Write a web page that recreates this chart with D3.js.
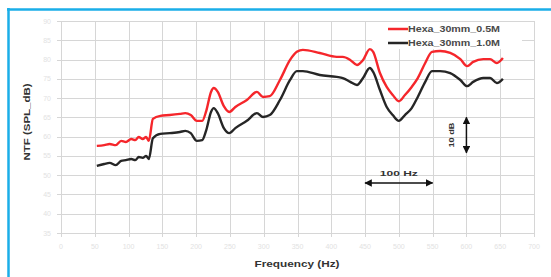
<!DOCTYPE html>
<html>
<head>
<meta charset="utf-8">
<script src="https://cdn.jsdelivr.net/npm/d3@7"></script>
<style>
  body { margin: 0; background: #fff; }
  svg { display: block; font-family: "Liberation Sans", Arial, sans-serif; }
</style>
</head>
<body>
<svg id="chart"></svg>
<script>
// frequency points (Hz)
const freqs = [53, 64, 72, 81, 89, 96, 104, 110, 115, 121, 126, 130, 136, 147, 161, 176, 184, 192, 201, 209,
  215, 222, 226, 232, 241, 249, 258, 275, 290, 299, 309, 324, 339, 349, 358, 383, 408, 417, 428, 438,
  447, 457, 462, 472, 482, 491, 500, 509, 519, 528, 539, 549, 561, 576, 591, 601, 610, 625, 635, 645, 654]

// Hexa_30mm_0.5M (red)
const ntfHalf = [57.6, 57.8, 58.1, 57.8, 58.9, 58.6, 59.4, 59.1, 59.9, 59.4, 59.9, 58.9, 64.6, 65.4, 65.6, 65.9, 66.1, 65.6, 64.1, 64.1,
  66.7, 71.6, 72.6, 71.6, 67.9, 66.4, 67.7, 69.5, 71.6, 70.3, 70.5, 74.7, 79.9, 82.0, 82.5, 81.7, 80.7, 80.7, 79.9, 78.6,
  79.9, 82.7, 82.0, 76.5, 72.9, 70.8, 69.2, 70.8, 72.9, 75.2, 79.1, 82.0, 82.2, 81.7, 80.1, 78.3, 79.4, 80.1, 80.1, 79.1, 80.4]

// Hexa_30mm_1.0M (black)
const ntfOne = [52.4, 52.9, 53.2, 52.6, 53.7, 53.9, 54.2, 53.9, 54.7, 54.5, 55.0, 54.2, 59.6, 60.7, 60.9, 61.2, 61.5, 60.9, 58.9, 59.1,
  61.7, 66.4, 67.4, 66.1, 62.2, 60.9, 62.2, 64.1, 66.1, 65.1, 65.6, 69.5, 74.7, 77.0, 77.0, 76.0, 75.5, 75.2, 74.2, 73.4,
  75.2, 77.8, 76.8, 72.1, 67.7, 65.6, 64.1, 65.6, 67.4, 70.3, 74.2, 77.0, 77.0, 76.5, 74.7, 73.1, 74.2, 75.2, 75.2, 73.9, 75.0]

const seriesNames = ["Hexa_30mm_0.5M", "Hexa_30mm_1.0M"]
const seriesColors = ["#f5262b", "#262626"]

const xTicks = d3.range(0, 701, 50)
const yTicks = d3.range(35, 91, 5)

const width = 551
const height = 277
const margin = { top: 21, right: 17, bottom: 44, left: 61 }

const svg = d3.select("#chart")
  .attr("width", width)
  .attr("height", height)

// blue frame of the figure
svg.append("line")
  .attr("x1", 8.5).attr("x2", 8.5).attr("y1", 8).attr("y2", height)
  .attr("stroke", "#1aaee8").attr("stroke-width", 2.5)
svg.append("line")
  .attr("x1", 7).attr("x2", width).attr("y1", 9.5).attr("y2", 9.5)
  .attr("stroke", "#1aaee8").attr("stroke-width", 2.5)

const xScale = d3.scaleLinear()
  .domain([0, 700])
  .range([margin.left, width - margin.right])

const yScale = d3.scaleLinear()
  .domain([35, 90])
  .range([height - margin.bottom, margin.top])

// grid
const grid = svg.append("g").attr("stroke", "#d6d6d6").attr("stroke-width", 1)
grid.selectAll(".vg")
  .data(xTicks)
  .join("line")
  .attr("x1", d => Math.round(xScale(d)) + 0.5)
  .attr("x2", d => Math.round(xScale(d)) + 0.5)
  .attr("y1", yScale(90))
  .attr("y2", yScale(35) + 4)
grid.selectAll(".hg")
  .data(yTicks)
  .join("line")
  .attr("x1", xScale(0) - 4)
  .attr("x2", xScale(700))
  .attr("y1", d => Math.round(yScale(d)) + 0.5)
  .attr("y2", d => Math.round(yScale(d)) + 0.5)

// faint tick labels
svg.append("g").selectAll("text")
  .data(yTicks)
  .join("text")
  .attr("x", xScale(0) - 10)
  .attr("y", d => yScale(d) + 2.5)
  .attr("text-anchor", "end")
  .attr("font-size", 7)
  .attr("fill", "#e2e2e2")
  .text(d => d)

svg.append("g").selectAll("text")
  .data(xTicks)
  .join("text")
  .attr("x", d => xScale(d))
  .attr("y", yScale(35) + 16)
  .attr("text-anchor", "middle")
  .attr("font-size", 7)
  .attr("fill", "#e2e2e2")
  .text(d => d)

// curves
const line = d3.line()
  .x((d, i) => xScale(freqs[i]))
  .y(d => yScale(d))
  .curve(d3.curveMonotoneX)

svg.append("path")
  .datum(ntfHalf)
  .attr("d", line)
  .attr("fill", "none")
  .attr("stroke", seriesColors[0])
  .attr("stroke-width", 2.4)
  .attr("stroke-linejoin", "round")

svg.append("path")
  .datum(ntfOne)
  .attr("d", line)
  .attr("fill", "none")
  .attr("stroke", seriesColors[1])
  .attr("stroke-width", 2.4)
  .attr("stroke-linejoin", "round")

// legend
const legend = svg.append("g")
legend.append("rect")
  .attr("x", 372).attr("y", 22).attr("width", 150).attr("height", 27)
  .attr("fill", "#fff")
seriesNames.forEach((name, i) => {
  const y = 29 + i * 14
  legend.append("line")
    .attr("x1", 388).attr("x2", 408).attr("y1", y).attr("y2", y)
    .attr("stroke", seriesColors[i]).attr("stroke-width", 2.5)
  legend.append("text")
    .attr("x", 408).attr("y", y + 3)
    .attr("font-size", 8.5).attr("font-weight", "bold")
    .attr("fill", "#4a4a4a")
    .attr("textLength", 92).attr("lengthAdjust", "spacingAndGlyphs")
    .text(name)
})

// axis titles
svg.append("text")
  .attr("x", 297).attr("y", 267)
  .attr("text-anchor", "middle")
  .attr("font-size", 9).attr("font-weight", "bold")
  .attr("fill", "#333")
  .attr("textLength", 85).attr("lengthAdjust", "spacingAndGlyphs")
  .text("Frequency (Hz)")

svg.append("text")
  .attr("transform", "translate(30,122) rotate(-90)")
  .attr("text-anchor", "middle")
  .attr("font-size", 9).attr("font-weight", "bold")
  .attr("fill", "#333")
  .attr("textLength", 77).attr("lengthAdjust", "spacingAndGlyphs")
  .text("NTF (SPL_dB)")

// scale annotations
const defs = svg.append("defs")
defs.append("marker")
  .attr("id", "head")
  .attr("viewBox", "0 0 10 10")
  .attr("refX", 9).attr("refY", 5)
  .attr("markerWidth", 5).attr("markerHeight", 5)
  .attr("orient", "auto-start-reverse")
  .append("path")
  .attr("d", "M0,0L10,5L0,10z")
  .attr("fill", "#111")

svg.append("line")
  .attr("x1", xScale(450)).attr("x2", xScale(550))
  .attr("y1", yScale(48)).attr("y2", yScale(48))
  .attr("stroke", "#111").attr("stroke-width", 1.5)
  .attr("marker-start", "url(#head)").attr("marker-end", "url(#head)")
svg.append("text")
  .attr("x", xScale(500)).attr("y", yScale(48) - 7)
  .attr("text-anchor", "middle")
  .attr("font-size", 8).attr("font-weight", "bold")
  .attr("fill", "#333")
  .attr("textLength", 38).attr("lengthAdjust", "spacingAndGlyphs")
  .text("100 Hz")

svg.append("line")
  .attr("x1", xScale(600)).attr("x2", xScale(600))
  .attr("y1", yScale(65)).attr("y2", yScale(55.8))
  .attr("stroke", "#111").attr("stroke-width", 1.5)
  .attr("marker-start", "url(#head)").attr("marker-end", "url(#head)")
svg.append("text")
  .attr("transform", `translate(${xScale(600) - 12},${yScale(60.4)}) rotate(-90)`)
  .attr("text-anchor", "middle")
  .attr("font-size", 8).attr("font-weight", "bold")
  .attr("fill", "#333")
  .attr("textLength", 25).attr("lengthAdjust", "spacingAndGlyphs")
  .text("10 dB")
</script>
</body>
</html>
